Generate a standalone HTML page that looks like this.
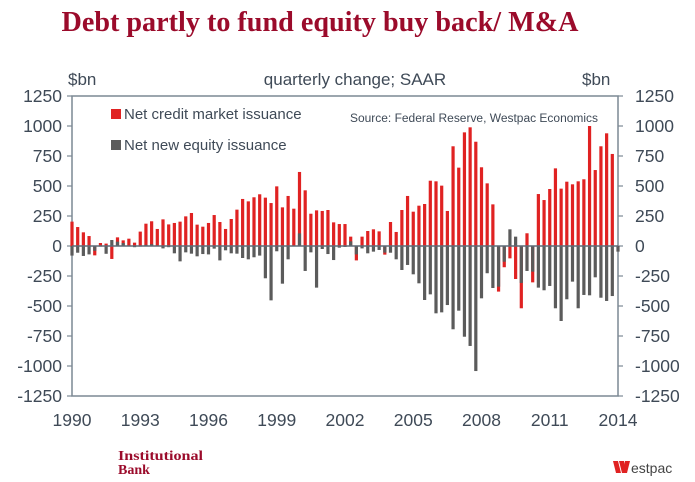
<!DOCTYPE html>
<html><head><meta charset="utf-8"><style>
html,body{margin:0;padding:0;background:#fff;}
svg{display:block;font-family:"Liberation Sans",sans-serif;}
</style></head><body>
<svg id="chart" width="695" height="482" viewBox="0 0 695 482" xmlns="http://www.w3.org/2000/svg">
<text x="320" y="31" text-anchor="middle" font-family="Liberation Serif, serif" font-weight="bold" font-size="28" fill="#9b0b2b" textLength="517" lengthAdjust="spacingAndGlyphs">Debt partly to fund equity buy back/ M&amp;A</text>
<text x="68" y="85" font-size="17" fill="#3f4a57">$bn</text>
<text x="355" y="85" text-anchor="middle" font-size="17" fill="#3f4a57">quarterly change; SAAR</text>
<text x="582" y="85" font-size="17" fill="#3f4a57">$bn</text>
<g id="plot"></g>
<rect x="111" y="109" width="10" height="10" fill="#e02222"/>
<text x="124" y="119" font-size="15" fill="#3f4a57">Net credit market issuance</text>
<rect x="111" y="140" width="10" height="10" fill="#5b5b5b"/>
<text x="124" y="150" font-size="15" fill="#3f4a57">Net new equity issuance</text>
<text x="350" y="122" font-size="11.5" fill="#3f4a57" textLength="248" lengthAdjust="spacingAndGlyphs">Source: Federal Reserve, Westpac Economics</text>
<text x="118" y="460" font-family="Liberation Serif, serif" font-weight="bold" font-size="14" fill="#9b0b2b" textLength="85" lengthAdjust="spacingAndGlyphs">Institutional</text>
<text x="118" y="474" font-family="Liberation Serif, serif" font-weight="bold" font-size="14" fill="#9b0b2b">Bank</text>
<g>
<polygon points="613,461 618,461 621,473 616,473" fill="#e02222"/>
<polygon points="619,461 624,461 627,473 622,473" fill="#e02222"/>
<polygon points="625,461 630,461 627,473 624,471" fill="#e02222"/>
<text x="631" y="473" font-size="14" fill="#444">estpac</text>
</g>
</svg>
<script>
const credit=[203,158,114,83,-78,25,20,-108,72,47,61,28,120,186,206,142,222,180,192,203,247,275,178,161,192,258,200,142,225,303,392,372,406,431,403,358,497,322,417,311,617,464,269,297,292,300,197,183,183,78,-120,78,125,139,122,-72,200,117,300,417,286,336,350,544,539,503,292,831,653,947,989,869,656,522,347,-380,-177,-103,-275,-519,106,-303,433,383,475,647,478,536,514,539,556,1000,633,831,939,767,0];
const equity=[-80,-56,-83,-70,-40,-5,-65,50,36,25,0,-10,-5,10,15,5,-20,-10,-61,-128,-53,-64,-86,-67,-70,-22,-120,-36,-61,-64,-100,-111,-94,-80,-269,-453,-44,-314,-111,0,105,-208,-53,-347,-25,-67,-117,-14,-8,39,-70,-20,-61,-47,-33,-55,-56,-111,-200,-158,-236,-311,-450,-403,-561,-553,-492,-694,-539,-756,-833,-1042,-436,-227,-350,-339,-131,139,78,-308,-208,-214,-347,-369,-333,-519,-625,-444,-297,-519,-408,-411,-261,-431,-458,-417,-47];
const yTicks=[1250,1000,750,500,250,0,-250,-500,-750,-1000,-1250];
const xLabels=["1990","1993","1996","1999","2002","2005","2008","2011","2014"];
const NS="http://www.w3.org/2000/svg";
const X0=72,X1=618,Y0=96,Y1=396,NQ=96;
function yS(v){return Y0+(1250-v)*(Y1-Y0)/2500;}
function xS(i){return X0+i*(X1-X0)/NQ;}
const g=document.getElementById('plot');
function mk(t,a){const e=document.createElementNS(NS,t);for(const k in a)e.setAttribute(k,a[k]);g.appendChild(e);return e;}
const ax="#7c8894";
let f=mk('rect',{x:X0,y:Y0,width:X1-X0,height:Y1-Y0,fill:'none',stroke:ax,'stroke-width':1.5});


yTicks.forEach(v=>{
  const y=yS(v);
  let t=mk('line',{x1:X0-5,x2:X0,y1:y,y2:y,stroke:ax,'stroke-width':1.2});
  
  
  let t2=mk('line',{x1:X1,x2:X1+5,y1:y,y2:y,stroke:ax,'stroke-width':1.2});
  
  
  let l=mk('text',{x:62,y:y+6,'text-anchor':'end','font-size':17.5,fill:'#3f4a57'});l.textContent=v;
  
  
  let r=mk('text',{x:635,y:y+6,'font-size':17.5,fill:'#3f4a57'});r.textContent=v;
  
  
});
xLabels.forEach((s,k)=>{
  let l=mk('text',{x:xS(k*12),y:426,'text-anchor':'middle','font-size':17.5,fill:'#3f4a57'});l.textContent=s;
  
  
});
const bw=3.2;
credit.forEach((v,i)=>{
  const y=Math.min(yS(v),yS(0)),h=Math.abs(yS(v)-yS(0));
  let b=mk('rect',{x:xS(i)-bw/2,y:y,width:bw,height:h,fill:'#e02222'});
  
  
});
equity.forEach((v,i)=>{
  const y=Math.min(yS(v),yS(0)),h=Math.abs(yS(v)-yS(0));
  let b=mk('rect',{x:xS(i)-bw/2,y:y,width:bw,height:h,fill:'#5b5b5b'});
  
  
});
let z=mk('line',{x1:X0,x2:X1,y1:yS(0),y2:yS(0),stroke:'#5e6a76','stroke-width':1.5});


</script>
</body></html>
